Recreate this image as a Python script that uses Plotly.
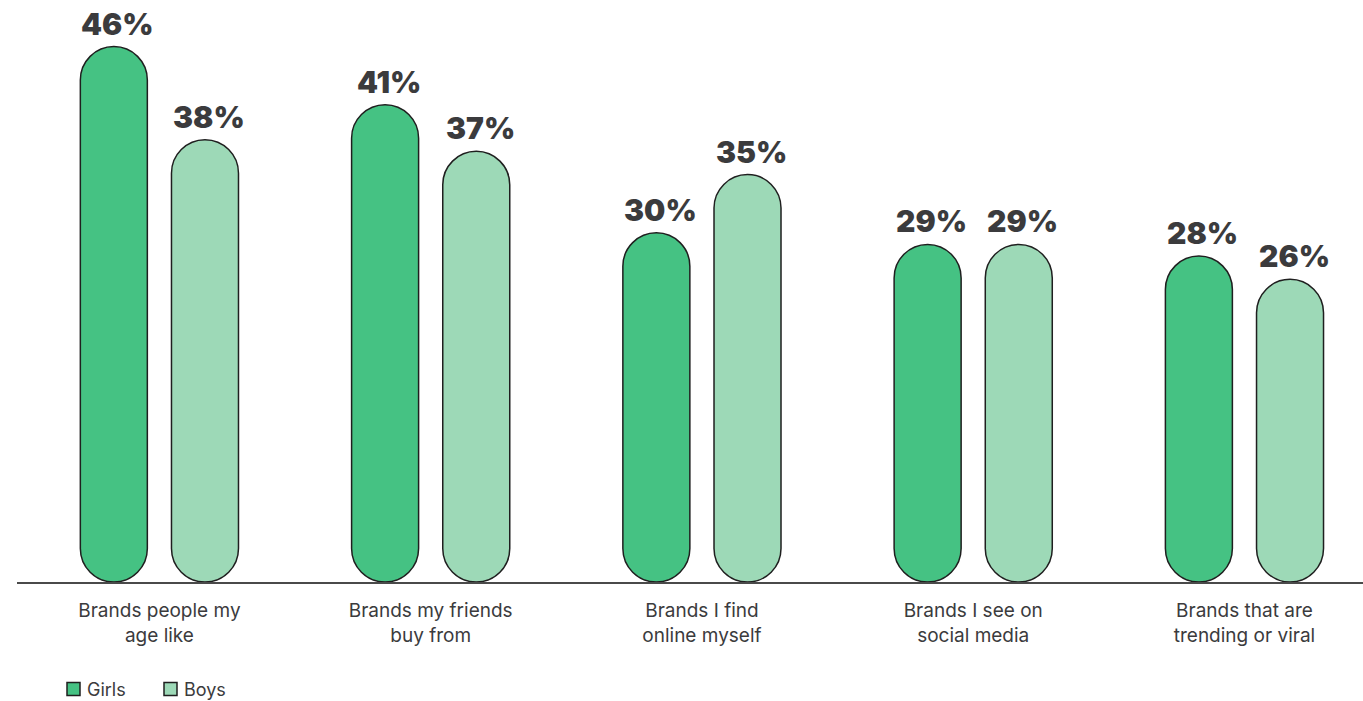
import plotly.graph_objects as go

# Survey answers by group
categories = [
    "Brands people my<br>age like",
    "Brands my friends<br>buy from",
    "Brands I find<br>online myself",
    "Brands I see on<br>social media",
    "Brands that are<br>trending or viral",
]
girls = [46, 41, 30, 29, 28]
boys = [38, 37, 35, 29, 26]
series_names = ["Girls", "Boys"]

GIRLS_COLOR = "#45c283"
BOYS_COLOR = "#9dd9b7"
OUTLINE = "#1f1f1f"
TEXT = "#3b3b3d"

BAR_W = 0.247          # bar width in category units
CENTER_OFF = 0.168     # distance of each bar centre from the category centre

# plot area in pixels (used to place the hand-made legend)
FIG_W, FIG_H = 1363, 701
M_L, M_R, M_T, M_B = 17, 0, 0, 119
PLOT_W = FIG_W - M_L - M_R
PLOT_H = FIG_H - M_T - M_B

idx = list(range(len(categories)))
fig = go.Figure()


def add_pills(values, color, off, name):
    # a bar with an explicit base gets both ends rounded -> pill shape
    fig.add_trace(go.Bar(
        x=idx, y=values, base=[0] * len(values), name=name,
        width=BAR_W, offset=off - BAR_W / 2, showlegend=False,
        marker=dict(color=color, line=dict(color=OUTLINE, width=1.5),
                    cornerradius="50%"),
        hovertemplate=name + ": %{y}%<extra></extra>",
    ))
    for i, v in zip(idx, values):
        fig.add_annotation(x=i + off, y=v, text=f"{v}%", showarrow=False,
                           yanchor="bottom", yshift=3, xshift=4,
                           font=dict(family="Inter", size=30, color=TEXT, weight=900))


add_pills(girls, GIRLS_COLOR, -CENTER_OFF, series_names[0])
add_pills(boys, BOYS_COLOR, CENTER_OFF, series_names[1])


def px_x(px):
    return (px - M_L) / PLOT_W


def px_y(py):
    return (M_T + PLOT_H - py) / PLOT_H


# legend: outlined squares with labels underneath the chart
legend_items = [(series_names[0], GIRLS_COLOR, 67), (series_names[1], BOYS_COLOR, 164)]
for label, color, left in legend_items:
    fig.add_shape(type="rect", xref="paper", yref="paper",
                  x0=px_x(left), x1=px_x(left + 13), y0=px_y(695.5), y1=px_y(682.5),
                  fillcolor=color, line=dict(color=OUTLINE, width=1.5))
    fig.add_annotation(xref="paper", yref="paper", x=px_x(left + 18), y=px_y(689),
                       xanchor="left", yanchor="middle", showarrow=False,
                       text=label, font=dict(family="Inter", size=18, color=TEXT))

fig.update_layout(
    width=FIG_W, height=FIG_H,
    margin=dict(l=M_L, r=M_R, t=M_T, b=M_B),
    barmode="overlay",
    showlegend=False,
    plot_bgcolor="white", paper_bgcolor="white",
    font=dict(family="Inter", color=TEXT),
    xaxis=dict(
        tickvals=idx, ticktext=categories, range=[-0.525, 4.437],
        showline=True, linecolor="#4a4a4a", linewidth=2,
        showgrid=False, zeroline=False, ticks="", ticklabelstandoff=10,
        tickfont=dict(family="Inter", size=19, color=TEXT),
    ),
    yaxis=dict(range=[0, 50], visible=False),
)

fig.write_html("out.html")
